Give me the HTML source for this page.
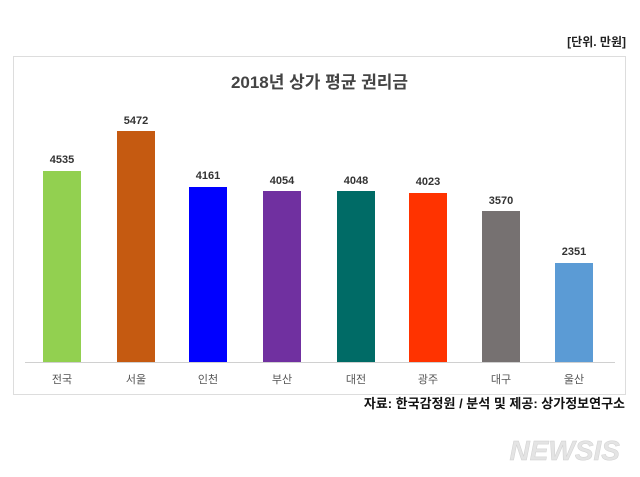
<!DOCTYPE html>
<html><head><meta charset="utf-8"><style>
body{margin:0;background:#fff;width:640px;height:477px;overflow:hidden;position:relative;font-family:"Liberation Sans","Noto Sans CJK KR",sans-serif}
.a{position:absolute}
</style></head><body>
<div class="a" style="right:14px;top:33px;font-size:12px;font-weight:bold;color:#222">[단위. 만원]</div>
<div class="a" style="left:13px;top:56px;width:611px;height:337px;border:1px solid #ddd"></div>
<div class="a" style="left:13px;top:68px;width:613px;text-align:center;font-size:17px;font-weight:bold;color:#444">2018년 상가 평균 권리금</div>
<div class="a" style="left:25px;top:362px;width:590px;height:1px;background:#d0d0d0"></div>
<svg class="a" style="left:0;top:0" width="640" height="477" font-family="Liberation Sans, Noto Sans CJK KR, sans-serif">
<g font-size="11" font-weight="bold" fill="#333" text-anchor="middle">
<rect x="43" y="171" width="38" height="191" fill="#92d050"/><text x="62" y="163">4535</text>
<rect x="117" y="131" width="38" height="231" fill="#c55a11"/><text x="136" y="124">5472</text>
<rect x="189" y="187" width="38" height="175" fill="#0000ff"/><text x="208" y="179">4161</text>
<rect x="263" y="191" width="38" height="171" fill="#7030a0"/><text x="282" y="184">4054</text>
<rect x="337" y="191" width="38" height="171" fill="#006b66"/><text x="356" y="184">4048</text>
<rect x="409" y="193" width="38" height="169" fill="#ff3300"/><text x="428" y="185">4023</text>
<rect x="482" y="211" width="38" height="151" fill="#767171"/><text x="501" y="204">3570</text>
<rect x="555" y="263" width="38" height="99" fill="#5b9bd5"/><text x="574" y="255">2351</text>
</g>
<g font-size="11" fill="#555" text-anchor="middle">
<text x="62" y="383">전국</text><text x="136" y="383">서울</text><text x="208" y="383">인천</text><text x="282" y="383">부산</text>
<text x="356" y="383">대전</text><text x="428" y="383">광주</text><text x="501" y="383">대구</text><text x="574" y="383">울산</text>
</g>
<text x="625" y="408" text-anchor="end" font-size="13" font-weight="bold" fill="#111">자료: 한국감정원 / 분석 및 제공: 상가정보연구소</text>
<text x="620" y="460" text-anchor="end" font-size="28" font-weight="bold" font-style="italic" fill="#e4e4e4" stroke="#d0d0d0" stroke-width="0.5">NEWSIS</text>
</svg>
</body></html>
